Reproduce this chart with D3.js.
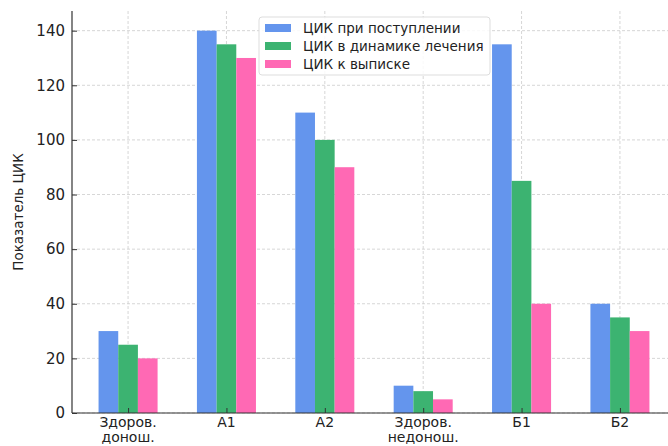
<!DOCTYPE html>
<html><head><meta charset="utf-8">
<script src="https://cdn.jsdelivr.net/npm/d3@7"></script>
<style>body{margin:0;background:#fff}svg{display:block;font-family:"DejaVu Sans",sans-serif}</style>
</head><body><svg id="c" width="668" height="446"></svg>
<script>
const categories = ["Здоров.\nдонош.", "A1", "A2", "Здоров.\nнедонош.", "Б1", "Б2"];
const seriesNames = ["ЦИК при поступлении", "ЦИК в динамике лечения", "ЦИК к выписке"];
const admission = [30, 140, 110, 10, 135, 40];
const dynamics = [25, 135, 100, 8, 85, 35];
const discharge = [20, 130, 90, 5, 40, 30];
const yTicks = [0, 20, 40, 60, 80, 100, 120, 140];
const colors = ["#6495ED", "#3CB371", "#FF69B4"];
const series = [admission, dynamics, discharge];

const svg = d3.select("#c");
const mLeft = 72, mRight = 676, mTop = 11, mBottom = 413;
const x = d3.scaleLinear().domain([-0.57, 5.57]).range([mLeft, mRight]);
const y = d3.scaleLinear().domain([0, 147.2]).range([mBottom, mTop]);
const bw = x(0.2) - x(0);

// grid
const g = svg.append("g");
g.selectAll(".hg").data(yTicks).join("line")
  .attr("x1", mLeft).attr("x2", 668).attr("y1", d => y(d)).attr("y2", d => y(d))
  .attr("stroke", "#ccc").attr("stroke-width", 0.8).attr("stroke-dasharray", "3,2");
g.selectAll(".vg").data(categories).join("line")
  .attr("x1", (d, i) => x(i)).attr("x2", (d, i) => x(i)).attr("y1", mTop).attr("y2", mBottom)
  .attr("stroke", "#ccc").attr("stroke-width", 0.8).attr("stroke-dasharray", "3,2");

// bars
series.forEach((s, k) => {
  svg.append("g").selectAll("rect").data(s).join("rect")
    .attr("x", (d, i) => x(i + (k - 1.5) * 0.2))
    .attr("width", bw)
    .attr("y", d => y(d))
    .attr("height", d => y(0) - y(d))
    .attr("fill", colors[k]);
});

// axes
const ya = d3.axisLeft(y).tickValues(yTicks).tickSize(-5).tickPadding(7);
const yg = svg.append("g").attr("transform", `translate(${mLeft},0)`).call(ya);
yg.select(".domain").attr("stroke", "#333").attr("stroke-width", 1.2).attr("d", `M0,${mTop}V${mBottom}`);
yg.selectAll("text").attr("font-size", 15).attr("fill", "#222").attr("font-family", "DejaVu Sans");
yg.selectAll(".tick line").attr("stroke", "#333");

const xa = d3.axisBottom(x).tickValues(d3.range(categories.length)).tickSize(-5).tickFormat("");
const xg = svg.append("g").attr("transform", `translate(0,${mBottom})`).call(xa);
xg.select(".domain").attr("stroke", "#333").attr("stroke-width", 1.2).attr("d", `M${mLeft},0H668`);
xg.selectAll(".tick line").attr("stroke", "#333");
categories.forEach((c, i) => {
  const lines = c.split("\n");
  lines.forEach((l, j) => svg.append("text").attr("text-anchor", "middle").attr("font-size", 14)
    .attr("fill", "#222").attr("x", x(i)).attr("y", mBottom + 14 + j * 15).text(l));
});

// y label
svg.append("text").attr("transform", `translate(23,${(mTop + mBottom) / 2}) rotate(-90)`)
  .attr("text-anchor", "middle").attr("font-size", 13.5).attr("fill", "#222").text("Показатель ЦИК");

// legend
const lg = svg.append("g").attr("transform", "translate(259,17)");
lg.append("rect").attr("width", 231).attr("height", 58).attr("rx", 3)
  .attr("fill", "rgba(255,255,255,0.85)").attr("stroke", "#ddd");
seriesNames.forEach((n, k) => {
  lg.append("rect").attr("x", 6).attr("y", 7 + k * 18).attr("width", 26).attr("height", 8).attr("fill", colors[k]);
  lg.append("text").attr("x", 44).attr("y", 16 + k * 18).attr("font-size", 13.5).attr("fill", "#222").text(n);
});
</script></body></html>
